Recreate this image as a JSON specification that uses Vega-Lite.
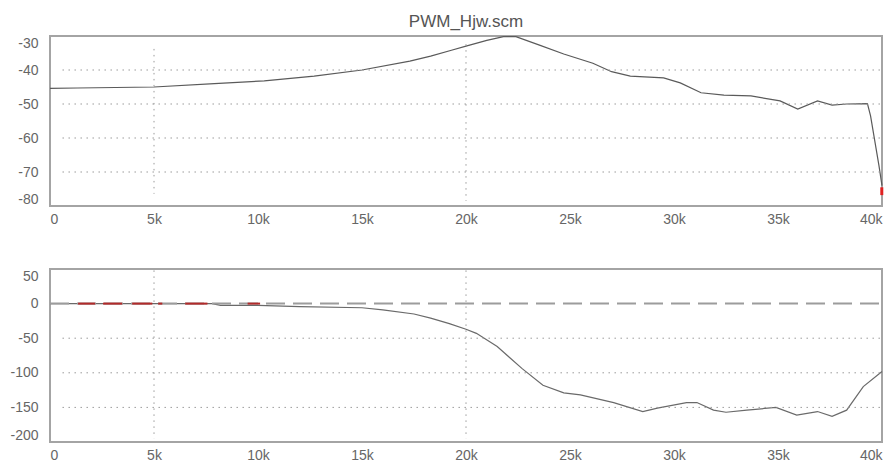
{
  "$schema": "https://vega.github.io/schema/vega-lite/v6.json",
  "autosize": {"type": "pad"},
  "padding": {"left": 8, "top": 12, "right": 0, "bottom": 0},
  "background": "white",
  "spacing": 63,
  "bounds": "flush",
  "config": {
    "view": {"stroke": "#a4a4a4", "strokeWidth": 2},
    "axis": {"labelFont": "Liberation Sans", "labelFontSize": 14, "labelColor": "#666666", "domain": false, "ticks": false, "grid": false, "labelFlush": true}
  },
  "datasets": {
    "mag": [
      {"f": 0, "db": -45.4}, {"f": 1300, "db": -45.3}, {"f": 5000, "db": -45.0}, {"f": 7900, "db": -44.0},
      {"f": 10300, "db": -43.2}, {"f": 12700, "db": -41.8}, {"f": 15000, "db": -40.0}, {"f": 17300, "db": -37.4},
      {"f": 18300, "db": -35.9}, {"f": 19300, "db": -34.2}, {"f": 20000, "db": -33.0}, {"f": 21000, "db": -31.3},
      {"f": 21800, "db": -30.2}, {"f": 22400, "db": -30.2}, {"f": 23500, "db": -32.6}, {"f": 24700, "db": -35.3},
      {"f": 26100, "db": -38.0}, {"f": 27000, "db": -40.5}, {"f": 27900, "db": -41.8}, {"f": 29500, "db": -42.3},
      {"f": 30300, "db": -43.8}, {"f": 31300, "db": -46.7}, {"f": 32400, "db": -47.4}, {"f": 33700, "db": -47.6},
      {"f": 35100, "db": -49.1}, {"f": 35950, "db": -51.5}, {"f": 36900, "db": -49.1}, {"f": 37600, "db": -50.3},
      {"f": 38300, "db": -50.0}, {"f": 39300, "db": -49.9}, {"f": 39450, "db": -53.5}, {"f": 39850, "db": -68.0},
      {"f": 40000, "db": -74.0}
    ],
    "phase": [
      {"f": 0, "deg": 0}, {"f": 7800, "deg": 0}, {"f": 8200, "deg": -2.5}, {"f": 10000, "deg": -2.5},
      {"f": 12000, "deg": -4.5}, {"f": 15000, "deg": -6}, {"f": 16000, "deg": -9}, {"f": 17500, "deg": -15},
      {"f": 18300, "deg": -21}, {"f": 19200, "deg": -29}, {"f": 20000, "deg": -37}, {"f": 20500, "deg": -43},
      {"f": 21500, "deg": -62}, {"f": 22700, "deg": -94}, {"f": 23700, "deg": -118}, {"f": 24700, "deg": -129},
      {"f": 25500, "deg": -132}, {"f": 27100, "deg": -143}, {"f": 28500, "deg": -156}, {"f": 29200, "deg": -151},
      {"f": 30600, "deg": -143}, {"f": 31100, "deg": -143}, {"f": 31900, "deg": -154}, {"f": 32500, "deg": -157},
      {"f": 33500, "deg": -154}, {"f": 34900, "deg": -150}, {"f": 35900, "deg": -161}, {"f": 36900, "deg": -156},
      {"f": 37600, "deg": -163}, {"f": 38300, "deg": -154}, {"f": 39100, "deg": -120}, {"f": 40000, "deg": -98}
    ],
    "hgridTop": [{"v": -40}, {"v": -50}, {"v": -60}, {"v": -70}],
    "vgridTop": [{"f": 5000, "y1": -33.8, "y2": -76.4}, {"f": 20000, "y1": -32.4, "y2": -78.5}],
    "hgridBot": [{"v": -50}, {"v": -100}, {"v": -150}],
    "vgridBot": [{"f": 5000, "y1": 48, "y2": -195}, {"f": 20000, "y1": 48, "y2": -195}],
    "redEnd": [{"f": 39990, "y1": -74.5, "y2": -76.8}],
    "redDash": [
      {"a": 1350, "b": 2170}, {"a": 2550, "b": 3470}, {"a": 3950, "b": 4920}, {"a": 5200, "b": 5400},
      {"a": 6500, "b": 7570}, {"a": 9500, "b": 10100}
    ],
    "zero": [{"v": 0}]
  },
  "vconcat": [
    {
      "width": 832,
      "height": 170,
      "title": {"text": "PWM_Hjw.scm", "font": "Liberation Sans", "fontSize": 17, "fontWeight": "normal", "color": "#555555", "baseline": "bottom", "offset": -14, "anchor": "middle"},
      "layer": [
        {
          "data": {"name": "mag"},
          "mark": {"type": "line", "color": "#5a5a5a", "strokeWidth": 1.2},
          "encoding": {
            "x": {"field": "f", "type": "quantitative", "scale": {"domain": [0, 40000], "nice": false},
                  "axis": {"title": null, "values": [0, 5000, 10000, 15000, 20000, 25000, 30000, 35000, 40000], "labelExpr": "datum.value == 0 ? '0' : (datum.value / 1000) + 'k'", "labelPadding": 6}},
            "y": {"field": "db", "type": "quantitative", "scale": {"domain": [-80, -30], "nice": false},
                  "axis": {"title": null, "values": [-30, -40, -50, -60, -70, -80], "labelExpr": "datum.value + ''", "labelPadding": 12}}
          }
        },
        {
          "data": {"name": "hgridTop"},
          "mark": {"type": "rule", "color": "#9a9a9a", "strokeDash": [1.5, 4.5], "strokeWidth": 1},
          "encoding": {
            "y": {"field": "v", "type": "quantitative",
                  "axis": {"title": null, "values": [-30, -40, -50, -60, -70, -80], "labelExpr": "datum.value + ''", "labelPadding": 12}},
            "x": {"datum": 600, "type": "quantitative",
                  "axis": {"title": null, "values": [0, 5000, 10000, 15000, 20000, 25000, 30000, 35000, 40000], "labelExpr": "datum.value == 0 ? '0' : (datum.value / 1000) + 'k'", "labelPadding": 6}},
            "x2": {"datum": 40000}
          }
        },
        {
          "data": {"name": "vgridTop"},
          "mark": {"type": "rule", "color": "#9a9a9a", "strokeDash": [1.5, 4.5], "strokeWidth": 1},
          "encoding": {
            "x": {"field": "f", "type": "quantitative",
                  "axis": {"title": null, "values": [0, 5000, 10000, 15000, 20000, 25000, 30000, 35000, 40000], "labelExpr": "datum.value == 0 ? '0' : (datum.value / 1000) + 'k'", "labelPadding": 6}},
            "y": {"field": "y1", "type": "quantitative",
                  "axis": {"title": null, "values": [-30, -40, -50, -60, -70, -80], "labelExpr": "datum.value + ''", "labelPadding": 12}},
            "y2": {"field": "y2"}
          }
        },
        {
          "data": {"name": "redEnd"},
          "mark": {"type": "rule", "color": "#e02020", "strokeWidth": 3},
          "encoding": {
            "x": {"field": "f", "type": "quantitative",
                  "axis": {"title": null, "values": [0, 5000, 10000, 15000, 20000, 25000, 30000, 35000, 40000], "labelExpr": "datum.value == 0 ? '0' : (datum.value / 1000) + 'k'", "labelPadding": 6}},
            "y": {"field": "y1", "type": "quantitative",
                  "axis": {"title": null, "values": [-30, -40, -50, -60, -70, -80], "labelExpr": "datum.value + ''", "labelPadding": 12}},
            "y2": {"field": "y2"}
          }
        }
      ]
    },
    {
      "width": 832,
      "height": 173,
      "layer": [
        {
          "data": {"name": "phase"},
          "mark": {"type": "line", "color": "#6a6a6a", "strokeWidth": 1.2},
          "encoding": {
            "x": {"field": "f", "type": "quantitative", "scale": {"domain": [0, 40000], "nice": false},
                  "axis": {"title": null, "values": [0, 5000, 10000, 15000, 20000, 25000, 30000, 35000, 40000], "labelExpr": "datum.value == 0 ? '0' : (datum.value / 1000) + 'k'", "labelPadding": 6}},
            "y": {"field": "deg", "type": "quantitative", "scale": {"domain": [-200, 50], "nice": false},
                  "axis": {"title": null, "values": [50, 0, -50, -100, -150, -200], "labelExpr": "datum.value + ''", "labelPadding": 12}}
          }
        },
        {
          "data": {"name": "hgridBot"},
          "mark": {"type": "rule", "color": "#9a9a9a", "strokeDash": [1.5, 4.5], "strokeWidth": 1},
          "encoding": {
            "y": {"field": "v", "type": "quantitative",
                  "axis": {"title": null, "values": [50, 0, -50, -100, -150, -200], "labelExpr": "datum.value + ''", "labelPadding": 12}},
            "x": {"datum": 600, "type": "quantitative",
                  "axis": {"title": null, "values": [0, 5000, 10000, 15000, 20000, 25000, 30000, 35000, 40000], "labelExpr": "datum.value == 0 ? '0' : (datum.value / 1000) + 'k'", "labelPadding": 6}},
            "x2": {"datum": 40000}
          }
        },
        {
          "data": {"name": "vgridBot"},
          "mark": {"type": "rule", "color": "#9a9a9a", "strokeDash": [1.5, 4.5], "strokeWidth": 1},
          "encoding": {
            "x": {"field": "f", "type": "quantitative",
                  "axis": {"title": null, "values": [0, 5000, 10000, 15000, 20000, 25000, 30000, 35000, 40000], "labelExpr": "datum.value == 0 ? '0' : (datum.value / 1000) + 'k'", "labelPadding": 6}},
            "y": {"field": "y1", "type": "quantitative",
                  "axis": {"title": null, "values": [50, 0, -50, -100, -150, -200], "labelExpr": "datum.value + ''", "labelPadding": 12}},
            "y2": {"field": "y2"}
          }
        },
        {
          "data": {"name": "zero"},
          "mark": {"type": "rule", "color": "#9c9c9c", "strokeDash": [19, 8], "strokeWidth": 2},
          "encoding": {
            "y": {"field": "v", "type": "quantitative",
                  "axis": {"title": null, "values": [50, 0, -50, -100, -150, -200], "labelExpr": "datum.value + ''", "labelPadding": 12}},
            "x": {"datum": 0, "type": "quantitative",
                  "axis": {"title": null, "values": [0, 5000, 10000, 15000, 20000, 25000, 30000, 35000, 40000], "labelExpr": "datum.value == 0 ? '0' : (datum.value / 1000) + 'k'", "labelPadding": 6}},
            "x2": {"datum": 40000}
          }
        },
        {
          "data": {"name": "redDash"},
          "mark": {"type": "rule", "color": "#b22a2a", "strokeWidth": 2},
          "encoding": {
            "x": {"field": "a", "type": "quantitative",
                  "axis": {"title": null, "values": [0, 5000, 10000, 15000, 20000, 25000, 30000, 35000, 40000], "labelExpr": "datum.value == 0 ? '0' : (datum.value / 1000) + 'k'", "labelPadding": 6}},
            "x2": {"field": "b"},
            "y": {"datum": 0, "type": "quantitative",
                  "axis": {"title": null, "values": [50, 0, -50, -100, -150, -200], "labelExpr": "datum.value + ''", "labelPadding": 12}}
          }
        }
      ]
    }
  ]
}
